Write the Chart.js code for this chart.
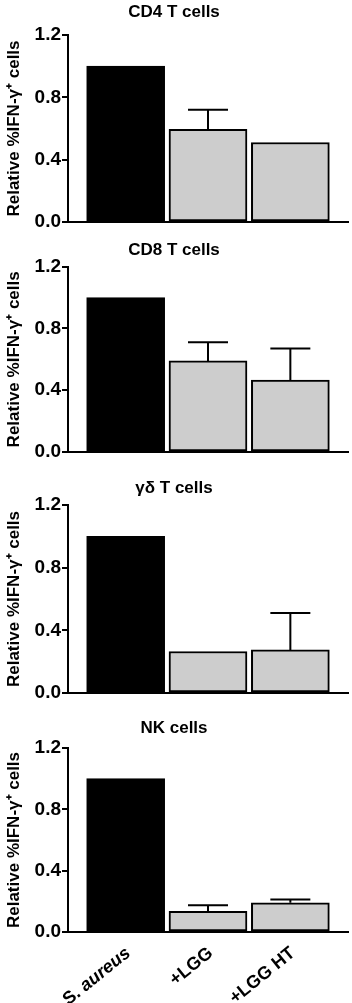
<!DOCTYPE html>
<html>
<head>
<meta charset="utf-8">
<script src="https://cdn.jsdelivr.net/npm/chart.js@4.4.1/dist/chart.umd.min.js"></script>
<style>
    body { margin: 0; background: #fff; }
    .panel { position: absolute; left: 0; width: 352px; }
</style>
</head>
<body>
<div class="panel" style="top:0px;height:238px"><canvas id="cd4"></canvas></div>
<div class="panel" style="top:238px;height:238px"><canvas id="cd8"></canvas></div>
<div class="panel" style="top:476px;height:240px"><canvas id="gd"></canvas></div>
<div class="panel" style="top:716px;height:287px"><canvas id="nk"></canvas></div>
<script>
const categories = ['S. aureus', '+LGG', '+LGG HT'];
const yTicks = [0.0, 0.4, 0.8, 1.2];

const cd4Values = [1.0, 0.595, 0.51];
const cd4Errors = [0, 0.125, 0];
const cd8Values = [1.0, 0.59, 0.465];
const cd8Errors = [0, 0.12, 0.205];
const gdValues = [1.0, 0.265, 0.275];
const gdErrors = [0, 0, 0.235];
const nkValues = [1.0, 0.135, 0.19];
const nkErrors = [0, 0.04, 0.022];

const FONT = "'Liberation Sans', Arial, Helvetica, sans-serif";
const barColors = ['#000000', '#cdcdcd', '#cdcdcd'];

// upper error bars (mean + SEM)
const errorBarPlugin = {
    id: 'errorBars',
    afterDatasetsDraw(chart, args, opts) {
        const ctx = chart.ctx;
        const xs = chart.scales.x;
        const ys = chart.scales.y;
        const vals = chart.data.datasets[0].data;
        ctx.save();
        ctx.strokeStyle = '#000';
        ctx.lineWidth = 2;
        opts.errors.forEach(function (e, i) {
            if (!e) return;
            const x = xs.getPixelForValue(i);
            const yBar = ys.getPixelForValue(vals[i].y);
            const yTop = ys.getPixelForValue(vals[i].y + e);
            ctx.beginPath();
            ctx.moveTo(x, yBar);
            ctx.lineTo(x, yTop);
            ctx.moveTo(x - 20, yTop);
            ctx.lineTo(x + 20, yTop);
            ctx.stroke();
        });
        ctx.restore();
    }
};

// rotated category labels under the last panel
const catLabelPlugin = {
    id: 'catLabels',
    afterDraw(chart, args, opts) {
        if (!opts.show) return;
        const ctx = chart.ctx;
        const xs = chart.scales.x;
        const bottom = chart.chartArea.bottom;
        ctx.save();
        ctx.fillStyle = '#000';
        ctx.textAlign = 'right';
        ctx.textBaseline = 'top';
        categories.forEach(function (label, i) {
            const x = xs.getPixelForValue(i);
            ctx.save();
            ctx.translate(x - 3, bottom + 12);
            ctx.rotate(-39 * Math.PI / 180);
            if (label.startsWith('S. ')) {
                ctx.font = 'italic bold 18px ' + FONT;
                const rest = label.slice(3);
                ctx.fillText(rest, 0, 0);
                const w = ctx.measureText(rest).width;
                ctx.font = 'bold 18px ' + FONT;
                ctx.fillText('S. ', -w, 0);
            } else {
                ctx.font = 'bold 18px ' + FONT;
                ctx.fillText(label, 0, 0);
            }
            ctx.restore();
        });
        ctx.restore();
    }
};

function makePanel(id, title, values, errors, padTitle, padBottom, showLabels) {
    const ctx = document.getElementById(id).getContext('2d');
    new Chart(ctx, {
        type: 'bar',
        data: {
            datasets: [{
                data: values.map(function (v, i) { return { x: i, y: v }; }),
                backgroundColor: barColors,
                borderColor: '#000',
                borderWidth: 2,
                borderSkipped: false,
                barThickness: 78
            }]
        },
        options: {
            responsive: true,
            maintainAspectRatio: false,
            animation: false,
            layout: { padding: { left: 0, right: 4, top: 0, bottom: padBottom } },
            plugins: {
                legend: { display: false },
                tooltip: { enabled: false },
                title: {
                    display: true,
                    text: title,
                    color: '#000',
                    font: { family: FONT, size: 17, weight: 'bold' },
                    padding: { top: 2, bottom: padTitle }
                },
                errorBars: { errors: errors },
                catLabels: { show: showLabels }
            },
            scales: {
                x: {
                    type: 'linear',
                    offset: false,
                    bounds: 'data',
                    min: -0.7,
                    max: 2.7,
                    grid: { display: false, drawTicks: false, offset: false },
                    ticks: { display: false },
                    border: { display: true, color: '#000', width: 2 }
                },
                y: {
                    min: 0,
                    max: 1.2,
                    afterBuildTicks: function (s) { s.ticks = yTicks.map(function (v) { return { value: v }; }); },
                    afterFit: function (s) { s.width = 68; },
                    ticks: {
                        color: '#000',
                        padding: 1,
                        font: { family: FONT, size: 19, weight: 'bold' },
                        callback: function (v) { return v.toFixed(1); }
                    },
                    grid: { drawOnChartArea: false, drawTicks: true, tickLength: 6, color: '#000', lineWidth: 2 },
                    border: { display: true, color: '#000', width: 2 },
                    title: {
                        display: true,
                        text: 'Relative %IFN-γ⁺ cells',
                        color: '#000',
                        font: { family: FONT, size: 17, weight: 'bold' },
                        padding: { top: 4, bottom: 0 }
                    }
                }
            }
        },
        plugins: [errorBarPlugin, catLabelPlugin]
    });
}

makePanel('cd4', 'CD4 T cells', cd4Values, cd4Errors, 12.6, 16, false);
makePanel('cd8', 'CD8 T cells', cd8Values, cd8Errors, 6.3, 24, false);
makePanel('gd', 'γδ T cells', gdValues, gdErrors, 6.6, 23, false);
makePanel('nk', 'NK cells', nkValues, nkErrors, 9.6, 71, true);
</script>
</body>
</html>
